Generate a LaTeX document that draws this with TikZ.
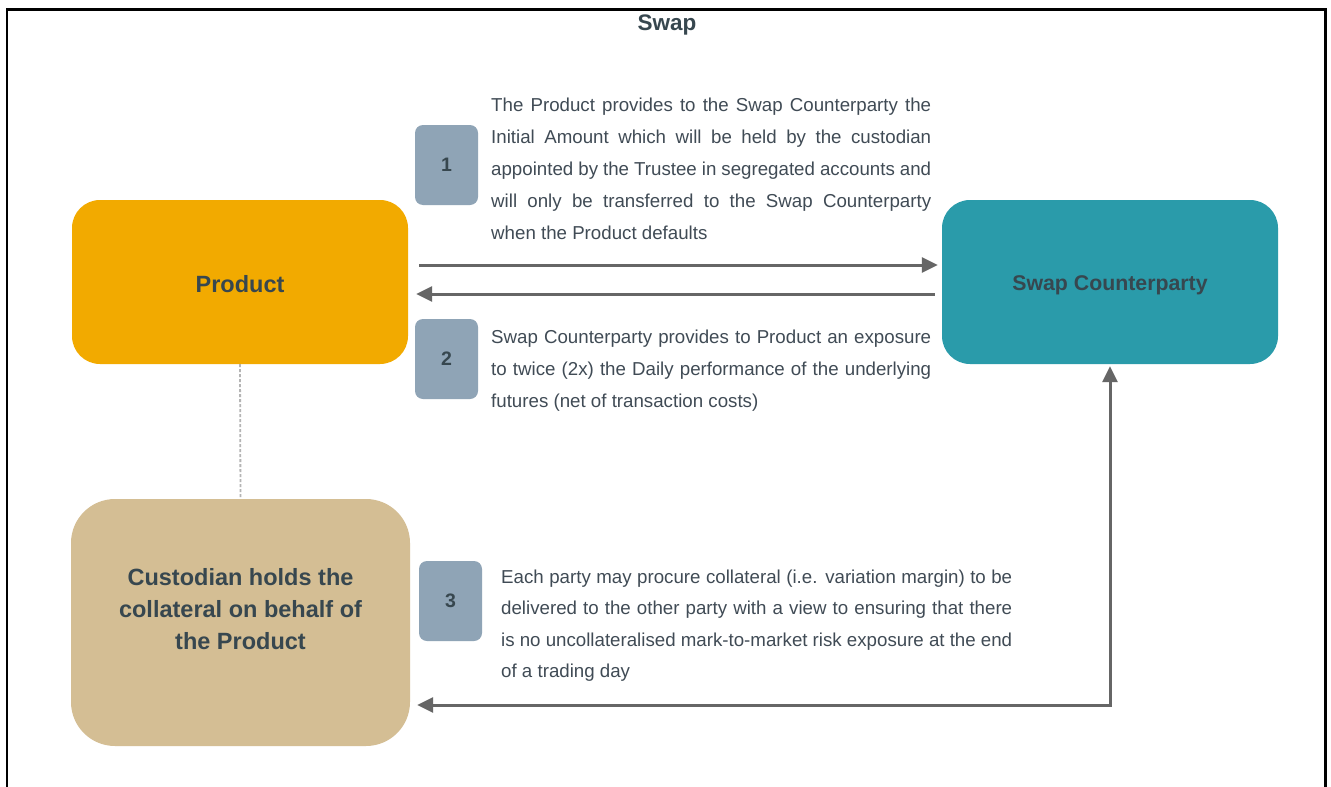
\documentclass[tikz,border=0pt]{standalone}
\usepackage{fontspec}
\setmainfont{Liberation Sans}
\usetikzlibrary{arrows.meta}
\definecolor{prodc}{HTML}{F2AA00}
\definecolor{swapc}{HTML}{2A9BAA}
\definecolor{custc}{HTML}{D4BE94}
\definecolor{badgec}{HTML}{8FA4B6}
\definecolor{txtc}{HTML}{37474F}
\definecolor{bodyc}{HTML}{404B55}
\definecolor{arrc}{HTML}{666666}
\definecolor{dotc}{HTML}{B4B4B4}
\newcommand\jl[2]{\makebox[#1][s]{\strut #2}}
\begin{document}
\begin{tikzpicture}[x=1pt,y=-1pt,
  bigbox/.style={rounded corners=28pt, inner sep=0pt, draw=none},
  lbl/.style={text=txtc, font=\bfseries\fontsize{23.5}{32}\selectfont, align=center, inner sep=0pt},
  badge/.style={fill=badgec, rounded corners=8pt, minimum width=63pt, minimum height=80pt, inner sep=0pt,
     text=txtc, font=\bfseries\fontsize{19.5}{20}\selectfont},
  body/.style={text=bodyc, font=\fontsize{18.7}{32}\selectfont, align=left, inner sep=0pt, anchor=north west},
  tip/.tip={Triangle[length=16pt,width=15pt]},
  arr/.style={draw=arrc, line width=3pt, -tip},
  frame/.style={line width=2.5pt, draw=black}
]
\useasboundingbox (0,0) rectangle (1331,787);
\fill[white] (0,0) rectangle (1331,787);
\draw[frame] (7,800) -- (7,9.5) -- (1325.5,9.5) -- (1325.5,800);

\node[text=txtc, font=\bfseries\fontsize{22.5}{24}\selectfont] (title) at (667,24.5) {Swap};

\node[bigbox, fill=prodc, minimum width=336pt, minimum height=164pt] (prod) at (240,282) {};
\node[lbl] (prodl) at (240,284) {Product};
\node[bigbox, fill=swapc, minimum width=336pt, minimum height=164pt] (sc) at (1110,282) {};
\node[lbl, font=\bfseries\fontsize{21.3}{32}\selectfont] (scl) at (1110,285) {Swap Counterparty};
\node[bigbox, rounded corners=44pt, fill=custc, minimum width=339pt, minimum height=247pt] (cust) at (240.5,622.5) {};
\node[lbl] (custl) at (240.5,609) {Custodian holds the\\collateral on behalf of\\the Product};

\node[badge] (b1) at (446.5,165) {1};
\node[badge] (b2) at (446.5,359) {2};
\node[badge] (b3) at (450.5,601) {3};

\node[body] (t1) at (491,88.6) {%
\jl{440pt}{The Product provides to the Swap Counterparty the}\\
\jl{440pt}{Initial Amount which will be held by the custodian}\\
\jl{440pt}{appointed by the Trustee in segregated accounts and}\\
\jl{440pt}{will only be transferred to the Swap Counterparty}\\
\strut when the Product defaults};

\node[body] (t2) at (491,320.6) {%
\jl{440pt}{Swap Counterparty provides to Product an exposure}\\
\jl{440pt}{to twice (2x) the Daily performance of the underlying}\\
\strut futures (net of transaction costs)};

\node[body, font=\fontsize{18.7}{31.5}\selectfont] (t3) at (501,561) {%
\jl{511pt}{Each party may procure collateral (i.e. variation margin) to be}\\
\jl{511pt}{delivered to the other party with a view to ensuring that there}\\
\jl{511pt}{is no uncollateralised mark-to-market risk exposure at the end}\\
\strut of a trading day};

\draw[arr, shorten <=11pt, shorten >=4pt] (prod.east |- 0,265) -- (sc.west |- 0,265);
\draw[arr, shorten <=7pt, shorten >=8pt] (sc.west |- 0,294) -- (prod.east |- 0,294);
\draw[arr, tip-tip, shorten <=7pt, shorten >=2pt]
  (cust.east |- 0,705) -| (sc.south);
\draw[dotc, line width=1.8pt, dash pattern=on 3pt off 2pt] (prod.south) -- (cust.north);
\end{tikzpicture}
\end{document}
